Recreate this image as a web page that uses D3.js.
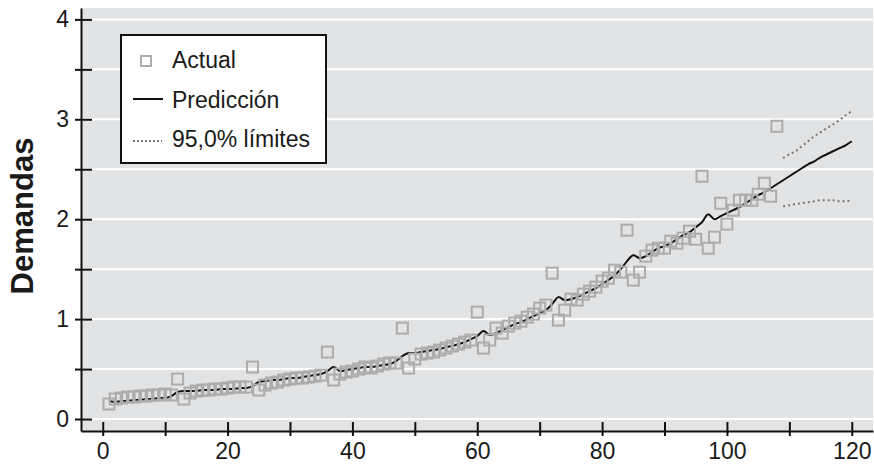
<!DOCTYPE html>
<html>
<head>
<meta charset="utf-8">
<script src="https://cdn.jsdelivr.net/npm/d3@7"></script>
<style>
  body { margin: 0; background: #fff; }
  svg { display: block; font-family: "Liberation Sans", Arial, Helvetica, sans-serif; }
</style>
</head>
<body>
<svg id="chart" width="874" height="464"></svg>
<script>
// observed demand, months 1..108
const actualValues = [
    0.15, 0.20, 0.21, 0.22, 0.22, 0.23, 0.23, 0.24, 0.24, 0.25, 0.24, 0.40,
    0.20, 0.26, 0.28, 0.29, 0.29, 0.30, 0.30, 0.31, 0.32, 0.32, 0.32, 0.52,
    0.29, 0.34, 0.36, 0.37, 0.39, 0.40, 0.41, 0.41, 0.42, 0.43, 0.44, 0.67,
    0.39, 0.45, 0.47, 0.48, 0.50, 0.52, 0.51, 0.53, 0.55, 0.56, 0.56, 0.91,
    0.51, 0.60, 0.65, 0.66, 0.67, 0.69, 0.71, 0.73, 0.75, 0.77, 0.79, 1.07,
    0.71, 0.79, 0.91, 0.86, 0.93, 0.96, 0.98, 1.02, 1.05, 1.11, 1.14, 1.46,
    0.99, 1.09, 1.20, 1.19, 1.25, 1.28, 1.32, 1.38, 1.41, 1.49, 1.47, 1.89,
    1.39, 1.47, 1.63, 1.69, 1.71, 1.71, 1.78, 1.76, 1.81, 1.88, 1.80, 2.43,
    1.71, 1.82, 2.16, 1.95, 2.09, 2.19, 2.19, 2.19, 2.25, 2.36, 2.23, 2.93
];

// model prediction, months 1..120
const predictedValues = [
    0.18, 0.17, 0.18, 0.18, 0.19, 0.19, 0.20, 0.20, 0.21, 0.21, 0.23, 0.27,
    0.28, 0.28, 0.28, 0.29, 0.29, 0.29, 0.30, 0.30, 0.30, 0.31, 0.31, 0.33,
    0.37, 0.38, 0.39, 0.39, 0.40, 0.41, 0.41, 0.42, 0.43, 0.44, 0.45, 0.48,
    0.52, 0.48, 0.49, 0.50, 0.51, 0.52, 0.52, 0.53, 0.54, 0.55, 0.58, 0.63,
    0.66, 0.66, 0.67, 0.68, 0.69, 0.70, 0.72, 0.73, 0.75, 0.77, 0.80, 0.83,
    0.88, 0.84, 0.86, 0.89, 0.92, 0.95, 0.97, 1.00, 1.03, 1.06, 1.09, 1.15,
    1.22, 1.19, 1.20, 1.22, 1.25, 1.28, 1.31, 1.35, 1.39, 1.44, 1.50, 1.58,
    1.64, 1.61, 1.63, 1.67, 1.71, 1.73, 1.76, 1.80, 1.84, 1.87, 1.92, 1.97,
    2.05, 2.00, 2.03, 2.06, 2.09, 2.12, 2.16, 2.20, 2.24, 2.27, 2.31, 2.35,
    2.39, 2.43, 2.47, 2.51, 2.55, 2.58, 2.62, 2.65, 2.68, 2.71, 2.74, 2.78
];

// 95% limits for the forecast months 109..120
const forecastStart = 109;
const upperLimits = [2.61, 2.65, 2.68, 2.73, 2.78, 2.83, 2.87, 2.91, 2.95, 2.99, 3.04, 3.08];
const lowerLimits = [2.13, 2.14, 2.15, 2.16, 2.17, 2.18, 2.19, 2.19, 2.19, 2.18, 2.18, 2.19];

const xTicks = d3.range(0, 121, 10);
const yTicks = d3.range(0, 4.01, 0.5);
const legendLabels = ["Actual", "Predicción", "95,0% límites"];

const svg = d3.select("#chart");

const plotLeft = 81, plotRight = 873, plotTop = 8, plotBottom = 431;

const x = d3.scaleLinear().domain([-3.48, 123.4]).range([plotLeft, plotRight]);
const y = d3.scaleLinear().domain([-0.12, 4.114]).range([plotBottom, plotTop]);

// plot background
svg.append("rect")
    .attr("x", plotLeft).attr("y", plotTop)
    .attr("width", plotRight - plotLeft).attr("height", plotBottom - plotTop)
    .attr("fill", "#e2e3e5");

// horizontal grid
svg.append("g")
    .selectAll("line")
    .data(yTicks)
    .enter().append("line")
    .attr("x1", plotLeft + 1).attr("x2", plotRight)
    .attr("y1", d => y(d)).attr("y2", d => y(d))
    .attr("stroke", "#fff")
    .attr("stroke-width", 2);

const actual = actualValues.map((v, i) => ({ t: i + 1, v: v }));
const predicted = predictedValues.map((v, i) => ({ t: i + 1, v: v }));
const upper = upperLimits.map((v, i) => ({ t: forecastStart + i, v: v }));
const lower = lowerLimits.map((v, i) => ({ t: forecastStart + i, v: v }));

const line = d3.line()
    .x(d => x(d.t))
    .y(d => y(d.v))
    .curve(d3.curveCatmullRom.alpha(0.5));

svg.append("path")
    .datum(predicted)
    .attr("fill", "none")
    .attr("stroke", "#111")
    .attr("stroke-width", 2)
    .attr("d", line);

[upper, lower].forEach(band => {
    svg.append("path")
        .datum(band)
        .attr("fill", "none")
        .attr("stroke", "#777")
        .attr("stroke-width", 2)
        .attr("stroke-dasharray", "2,3")
        .attr("d", line);
});

const sq = 11;
svg.append("g")
    .selectAll("rect")
    .data(actual)
    .enter().append("rect")
    .attr("x", d => x(d.t) - sq / 2)
    .attr("y", d => y(d.v) - sq / 2)
    .attr("width", sq).attr("height", sq)
    .attr("fill", "none")
    .attr("stroke", "#acacac")
    .attr("stroke-width", 2);

// axes
const yAxis = svg.append("g")
    .attr("transform", "translate(" + plotLeft + ",0)")
    .call(d3.axisLeft(y)
        .tickValues(yTicks)
        .tickSize(6)
        .tickSizeOuter(0)
        .tickPadding(6)
        .tickFormat(d => Number.isInteger(d) ? d : ""));

const xAxis = svg.append("g")
    .attr("transform", "translate(0," + plotBottom + ")")
    .call(d3.axisBottom(x)
        .tickValues(xTicks)
        .tickSize(5)
        .tickSizeOuter(0)
        .tickPadding(7)
        .tickFormat(d => d % 20 === 0 ? d : ""));

yAxis.selectAll(".tick line").attr("x1", 11);
xAxis.selectAll(".tick line").attr("y1", -9);

[yAxis, xAxis].forEach(ax => {
    ax.select(".domain").attr("stroke", "#111").attr("stroke-width", 2);
    ax.selectAll(".tick line").attr("stroke", "#111").attr("stroke-width", 2);
    ax.selectAll("text")
        .attr("font-size", 23)
        .attr("font-family", "'Liberation Sans', Arial, sans-serif")
        .attr("fill", "#1a1a1a");
});

svg.append("text")
    .attr("transform", "translate(33,216) rotate(-90)")
    .attr("text-anchor", "middle")
    .attr("font-size", 31)
    .attr("font-weight", "bold")
    .attr("fill", "#1a1a1a")
    .text("Demandas");

// legend
const legend = svg.append("g");

legend.append("rect")
    .attr("x", 121).attr("y", 35)
    .attr("width", 205).attr("height", 128)
    .attr("fill", "#fff")
    .attr("stroke", "#111")
    .attr("stroke-width", 2);

legend.append("rect")
    .attr("x", 141).attr("y", 56)
    .attr("width", 10).attr("height", 10)
    .attr("fill", "none")
    .attr("stroke", "#acacac")
    .attr("stroke-width", 2);

legend.append("line")
    .attr("x1", 133).attr("x2", 163)
    .attr("y1", 99).attr("y2", 99)
    .attr("stroke", "#111")
    .attr("stroke-width", 2);

legend.append("line")
    .attr("x1", 133).attr("x2", 162)
    .attr("y1", 141).attr("y2", 141)
    .attr("stroke", "#777")
    .attr("stroke-width", 2)
    .attr("stroke-dasharray", "2,2");

legend.selectAll("text")
    .data(legendLabels)
    .enter().append("text")
    .attr("x", 172)
    .attr("y", (d, i) => [68, 108, 147][i])
    .attr("font-size", 23)
    .attr("fill", "#1a1a1a")
    .text(d => d);
</script>
</body>
</html>
